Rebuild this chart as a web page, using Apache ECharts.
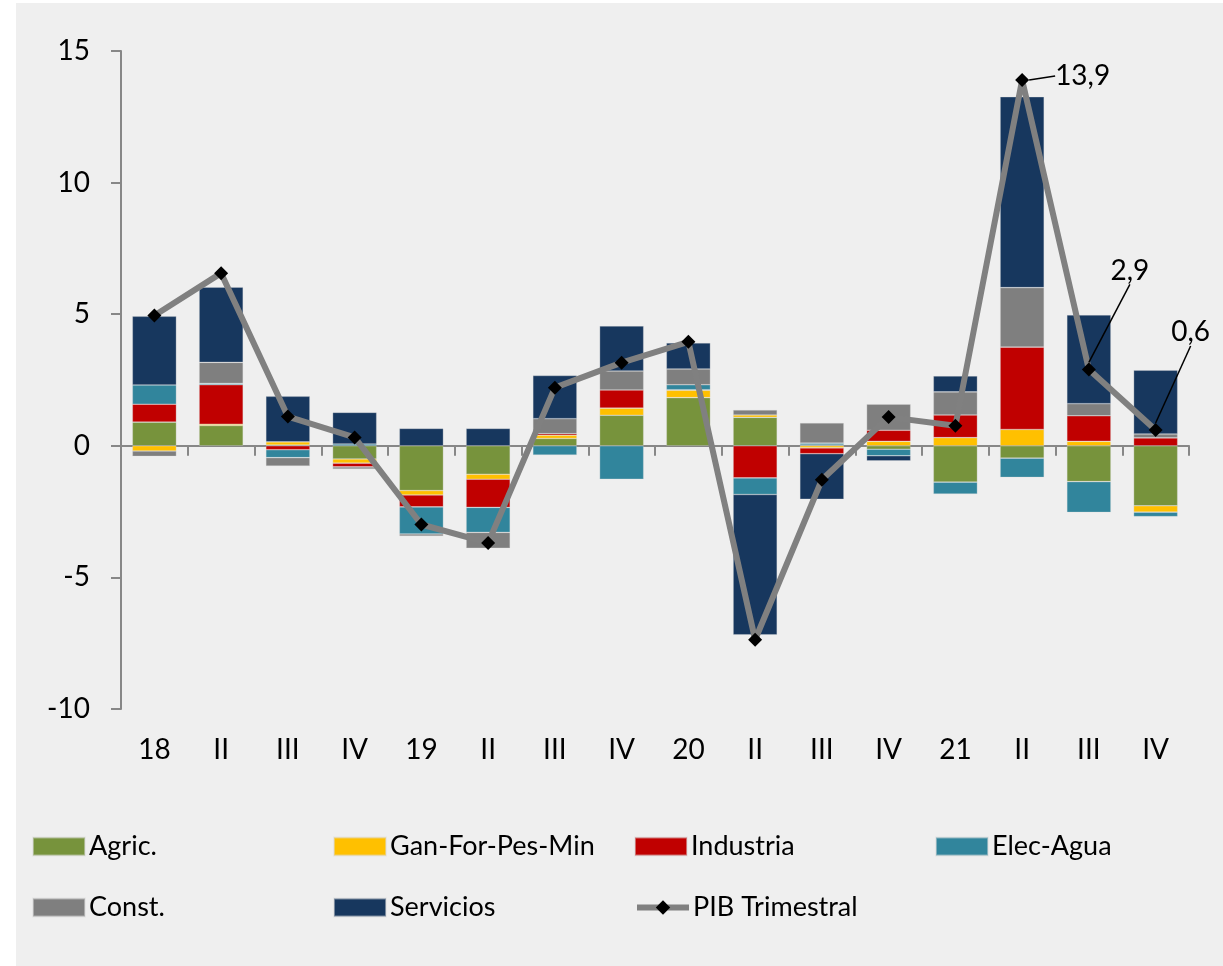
<!DOCTYPE html>
<html>
<head>
<meta charset="utf-8">
<script src="https://cdn.jsdelivr.net/npm/echarts@6/dist/echarts.min.js"></script>
<style>
  html, body { margin: 0; padding: 0; background: #ffffff; }
  #chart { position: absolute; left: 16px; top: 3px; width: 1207px; height: 963px; background: #efefef; }
</style>
</head>
<body>
<div id="chart"></div>
<script>
// categorias (trimestres)
var categories = ["18", "II", "III", "IV", "19", "II", "III", "IV", "20", "II", "III", "IV", "21", "II", "III", "IV"];

// contribuciones por sector
var agric     = [0.9, 0.77, 0.03, -0.5, -1.7, -1.08, 0.28, 1.16, 1.83, 1.08, 0.03, -0.13, -1.38, -0.47, -1.36, -2.28];
var ganForPes = [-0.2, 0.05, 0.12, -0.16, -0.17, -0.19, 0.12, 0.27, 0.28, 0.09, -0.08, 0.17, 0.31, 0.62, 0.17, -0.24];
var industria = [0.68, 1.5, -0.15, -0.14, -0.45, -1.07, 0.06, 0.69, 0.02, -1.22, -0.22, 0.42, 0.86, 3.13, 0.97, 0.3];
var elecAgua  = [0.73, 0.05, -0.3, 0.07, -1.03, -0.95, -0.35, -1.27, 0.19, -0.63, 0.07, -0.25, -0.45, -0.73, -1.17, -0.17];
var constr    = [-0.2, 0.8, -0.32, -0.08, -0.08, -0.6, 0.57, 0.72, 0.6, 0.19, 0.77, 0.99, 0.88, 2.26, 0.46, 0.15];
var servicios = [2.61, 2.86, 1.73, 1.2, 0.66, 0.66, 1.64, 1.71, 0.99, -5.33, -1.73, -0.19, 0.6, 7.25, 3.37, 2.42];

// PIB trimestral
var pib = [4.95, 6.56, 1.11, 0.32, -2.99, -3.69, 2.21, 3.16, 3.95, -7.37, -1.29, 1.09, 0.76, 13.9, 2.9, 0.6];
var etiquetados = [13, 14, 15];

var yTicks = [-10, -5, 0, 5, 10, 15];

(function() {
  var myChart = echarts.init(document.getElementById("chart"));
  var fuente = "Lato";

  function barra(nombre, datos, color) {
    return {
      name: nombre,
      type: "bar",
      stack: "total",
      barCategoryGap: "34%",
      data: datos,
      itemStyle: {
        color: color,
        borderColor: "rgba(220,220,220,0.5)",
        borderWidth: 0.6
      },
      z: 2
    };
  }

  var pibData = pib.map(function(v, i) {
    if (etiquetados.indexOf(i) >= 0) {
      return {
        value: v,
        label: {
          show: true,
          position: i === 13 ? "right" : "top"
        }
      };
    }
    return v;
  });

  // estilo comun de las dos filas de leyenda
  function leyenda(top, nombres) {
    return {
      left: 16,
      top: top,
      width: 1240,
      padding: 0,
      itemGap: 0,
      itemWidth: 52,
      itemHeight: 18,
      data: nombres.map(function(n) {
        return n === "PIB Trimestral" ? { name: n } : { name: n, icon: "rect" };
      }),
      lineStyle: { width: 6, color: "#808080" },
      textStyle: { fontSize: 27, color: "#000", width: 244, lineHeight: 18, padding: [0, 0, 0, -1] }
    };
  }

  var option = {
    animation: false,
    backgroundColor: "#efefef",
    textStyle: { fontFamily: fuente },
    grid: { left: 105, right: 34, top: 48, bottom: 257 },
    legend: [
      leyenda(830, ["Agric.", "Gan-For-Pes-Min", "Industria", "Elec-Agua"]),
      leyenda(891, ["Const.", "Servicios", "PIB Trimestral"])
    ],
    xAxis: [
      {
        type: "category",
        data: categories,
        axisLine: { show: false, onZero: false },
        axisTick: { show: false },
        axisLabel: { fontSize: 28, color: "#000", margin: 27 }
      },
      {
        type: "category",
        data: categories,
        position: "bottom",
        axisLine: { show: true, onZero: true, lineStyle: { color: "#878787", width: 2 } },
        axisTick: { show: true, inside: false, length: 10, lineStyle: { color: "#878787", width: 2 } },
        axisLabel: { show: false }
      }
    ],
    yAxis: {
      type: "value",
      min: yTicks[0],
      max: yTicks[yTicks.length - 1],
      interval: 5,
      splitLine: { show: false },
      axisLine: { show: true, lineStyle: { color: "#878787", width: 2 } },
      axisTick: { show: true, length: 10, lineStyle: { color: "#878787", width: 2 } },
      axisLabel: { fontSize: 28, color: "#000", margin: 31 }
    },
    series: [
      barra("Agric.", agric, "#77933c"),
      barra("Gan-For-Pes-Min", ganForPes, "#ffc000"),
      barra("Industria", industria, "#c00000"),
      barra("Elec-Agua", elecAgua, "#31859c"),
      barra("Const.", constr, "#7f7f7f"),
      barra("Servicios", servicios, "#17375e"),
      {
        name: "PIB Trimestral",
        type: "line",
        data: pibData,
        symbol: "diamond",
        symbolSize: 14,
        itemStyle: { color: "#000" },
        lineStyle: { color: "#808080", width: 6 },
        z: 5,
        label: {
          show: false,
          fontSize: 28,
          color: "#000",
          formatter: function(p) {
            return String(p.value).replace(".", ",");
          }
        },
        labelLine: {
          show: true,
          lineStyle: { color: "#000", width: 1.5 }
        },
        labelLayout: function(params) {
          if (params.dataIndex === 13) return { dx: 21, dy: -4 };
          if (params.dataIndex === 14) return { dx: 41, dy: -73 };
          if (params.dataIndex === 15) return { dx: 35, dy: -72 };
          return {};
        }
      }
    ]
  };

  myChart.setOption(option);
  window.addEventListener("resize", function() {
    myChart.resize();
  });
})();
</script>
</body>
</html>
